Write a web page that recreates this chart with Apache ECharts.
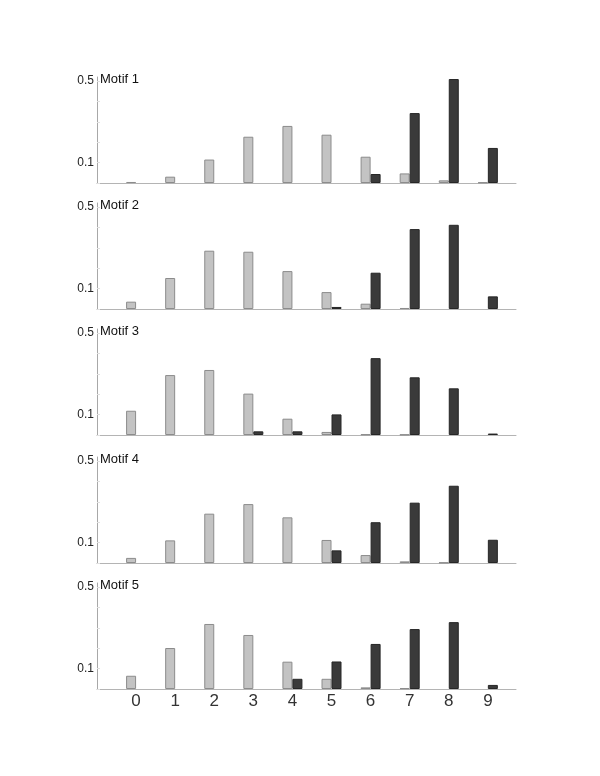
<!DOCTYPE html>
<html>
<head>
<meta charset="utf-8">
<script src="https://cdn.jsdelivr.net/npm/echarts@6/dist/echarts.min.js"></script>
<style>
  html, body { margin: 0; padding: 0; background: #fff; }
  #motif-chart { width: 600px; height: 776px; }
</style>
</head>
<body>
<div id="motif-chart"></div>
<script>
// x categories
var categories = ['0', '1', '2', '3', '4', '5', '6', '7', '8', '9'];
var panelTitles = ['Motif 1', 'Motif 2', 'Motif 3', 'Motif 4', 'Motif 5'];

// light grey bars
var grey1 = [0.005, 0.031, 0.115, 0.227, 0.28, 0.237, 0.129, 0.047, 0.013, 0.003];
var grey2 = [0.036, 0.152, 0.286, 0.281, 0.186, 0.083, 0.026, 0.005, 0, 0];
var grey3 = [0.119, 0.294, 0.319, 0.203, 0.08, 0.015, 0.003, 0.002, 0, 0];
var grey4 = [0.025, 0.111, 0.242, 0.289, 0.224, 0.113, 0.039, 0.008, 0.002, 0];
var grey5 = [0.065, 0.201, 0.319, 0.265, 0.134, 0.05, 0.008, 0.004, 0, 0];

// dark bars
var dark1 = [0, 0, 0, 0, 0, 0, 0.044, 0.343, 0.51, 0.172];
var dark2 = [0, 0, 0, 0, 0, 0.01, 0.178, 0.392, 0.413, 0.062];
var dark3 = [0, 0, 0, 0.018, 0.018, 0.101, 0.377, 0.283, 0.229, 0.007];
var dark4 = [0, 0, 0, 0, 0, 0.062, 0.2, 0.296, 0.379, 0.114];
var dark5 = [0, 0, 0, 0, 0.05, 0.135, 0.221, 0.294, 0.328, 0.02];

// labelled y ticks
var yTickLabels = [0.1, 0.5];

var greySets = [grey1, grey2, grey3, grey4, grey5];
var darkSets = [dark1, dark2, dark3, dark4, dark5];

var chart = echarts.init(document.getElementById('motif-chart'));

var baselines = [183, 309, 435, 563, 689];
var plotH = 106;

var grids = [], xAxes = [], yAxes = [], series = [], titles = [];

// zero means no bar at all
function pairs(arr) {
  return arr.map(function (v, i) { return [i, v === 0 ? '-' : v]; });
}

baselines.forEach(function (b, p) {
  var last = p === baselines.length - 1;
  grids.push({ left: 97, right: 84, top: b - plotH, height: plotH });
  titles.push({
    text: panelTitles[p],
    left: 100,
    top: b - plotH - 4,
    padding: 0,
    textStyle: { fontSize: 13, fontWeight: 'normal', color: '#111', fontFamily: 'Liberation Sans, Arial' }
  });
  xAxes.push({
    type: 'value',
    gridIndex: p,
    min: -1,
    max: 9.72,
    interval: 1,
    splitLine: { show: false },
    axisTick: { show: false },
    axisLine: { show: true, onZero: false, lineStyle: { color: '#b4b4b4', width: 1 } },
    axisLabel: {
      show: last,
      margin: 4,
      fontSize: 17,
      color: '#333',
      fontFamily: 'Liberation Sans, Arial',
      showMinLabel: false,
      showMaxLabel: false,
      formatter: function (v) {
        return (v >= 0 && Math.round(v) === v) ? categories[v] : '';
      }
    }
  });
  yAxes.push({
    type: 'value',
    gridIndex: p,
    min: 0,
    max: 0.52,
    interval: 0.1,
    splitLine: { show: false },
    axisTick: { show: true, inside: true, length: 3, lineStyle: { color: '#e0e0e0' } },
    axisLine: { show: true, onZero: false, lineStyle: { color: '#a8a8a8', width: 1 } },
    axisLabel: {
      margin: 3,
      fontSize: 12,
      color: '#222',
      fontFamily: 'Liberation Sans, Arial',
      showMaxLabel: false,
      formatter: function (v) {
        for (var k = 0; k < yTickLabels.length; k++) {
          if (Math.abs(v - yTickLabels[k]) < 1e-6) return String(yTickLabels[k]);
        }
        return '';
      }
    }
  });
  series.push({
    type: 'bar',
    xAxisIndex: p,
    yAxisIndex: p,
    barWidth: 10,
    barGap: '0%',
    itemStyle: { color: '#c3c3c3', borderColor: '#8c8c8c', borderWidth: 1 },
    data: pairs(greySets[p])
  });
  series.push({
    type: 'bar',
    xAxisIndex: p,
    yAxisIndex: p,
    barWidth: 10,
    barGap: '0%',
    itemStyle: { color: '#3a3a3a', borderColor: '#262626', borderWidth: 1 },
    data: pairs(darkSets[p])
  });
});

chart.setOption({
  animation: false,
  title: titles,
  grid: grids,
  xAxis: xAxes,
  yAxis: yAxes,
  series: series
});
</script>
</body>
</html>
